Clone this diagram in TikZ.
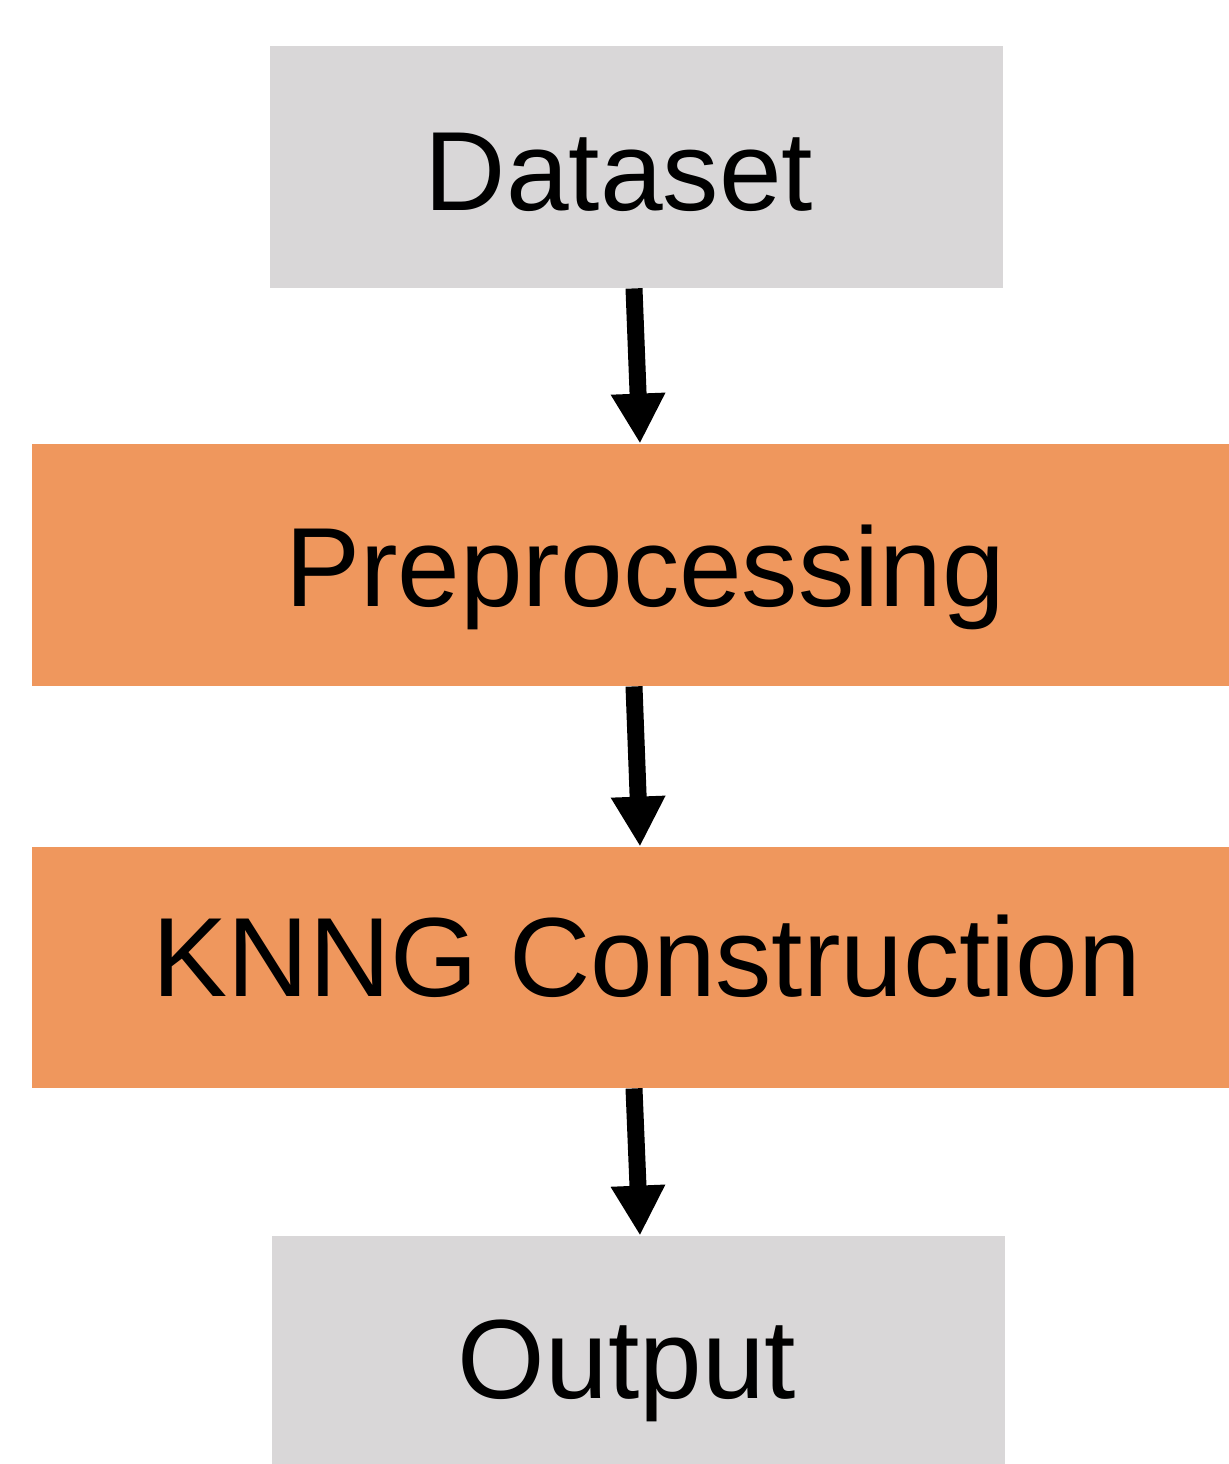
\documentclass[tikz,border=0pt]{standalone}
\usepackage{fontspec}
\setmainfont{Liberation Sans}
\usetikzlibrary{arrows.meta,calc}
\definecolor{boxgray}{HTML}{D9D7D8}
\definecolor{boxorange}{HTML}{EF975D}
\tikzset{
  px/.style={x=0.5pt,y=-0.5pt},
  graybox/.style={fill=boxgray,draw=none,inner sep=0pt},
  orangebox/.style={fill=boxorange,draw=none,inner sep=0pt},
  label56/.style={font=\fontsize{56.3}{67}\selectfont},
  flow/.style={line width=8.5pt,-{Triangle[width=25.5pt,length=25pt]}}
}
\begin{document}
\begin{tikzpicture}[px]
\useasboundingbox (0,0) rectangle (1229,1464);
\clip (0,0) rectangle (1229,1464);
\node[graybox,minimum width=366.5pt,minimum height=121pt] (d) at (636.5,167) {};
\node[label56] (dt) at (619,172) {Dataset};
\node[orangebox,minimum width=598.5pt,minimum height=121pt] (p) at (630.5,565) {};
\node[label56] (pt) at (645,577) {Preprocessing};
\node[orangebox,minimum width=598.5pt,minimum height=120.5pt] (k) at (630.5,967.5) {};
\node[label56] (kt) at (647,956) {KNNG Construction};
\node[graybox,minimum width=366.5pt,minimum height=124pt] (o) at (638.5,1360) {};
\node[label56] (ot) at (627,1371) {Output};
\draw[flow] ($(d.south)+(-2.5,0)$) -- ($(p.north)+(9.5,0)$);
\draw[flow] ($(p.south)+(3.5,0)$) -- ($(k.north)+(9.5,0)$);
\draw[flow] ($(k.south)+(3.5,0)$) -- ($(o.north)+(1.5,0)$);
\end{tikzpicture}
\end{document}
